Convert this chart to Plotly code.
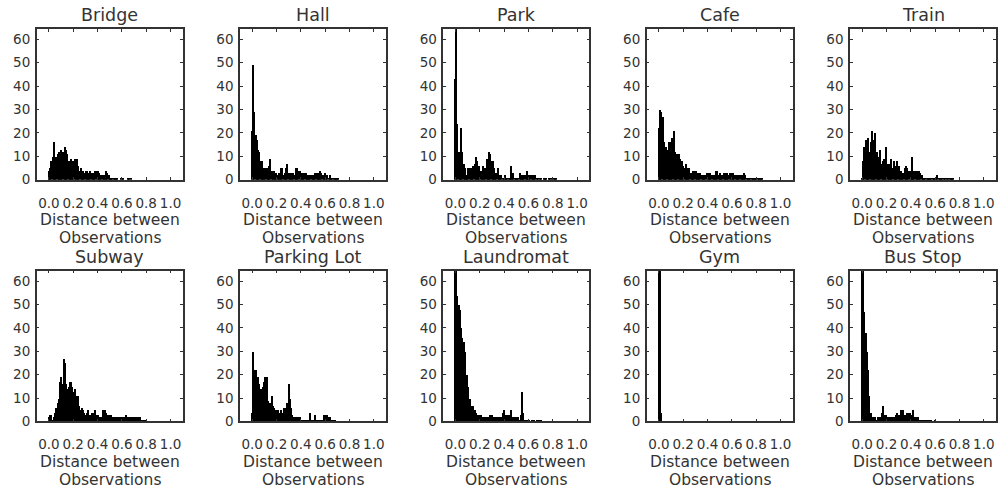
import numpy as np
import plotly.graph_objects as go

# ---- data (counts per 0.01-wide bin, first bin starts at -0.005) ----
titles = ["Bridge", "Hall", "Park", "Cafe", "Train",
          "Subway", "Parking Lot", "Laundromat", "Gym", "Bus Stop"]

bridge = [4, 5, 8, 10, 16, 10, 10, 11, 12, 12, 13, 12, 12, 14, 13, 11, 8, 7, 9, 7, 8, 9, 5, 9, 6, 4, 5, 4, 4, 3,
          4, 4, 3, 2, 4, 3, 3, 3, 4, 4, 4, 3, 2, 2, 2, 2, 2, 4, 3, 2, 1, 1, 1, 1, 1, 1, 1, 0, 0, 1, 1, 1, 0, 0, 0, 1, 1, 1, 0]
hall = [21, 49, 29, 19, 17, 13, 12, 8, 8, 5, 4, 5, 5, 4, 6, 9, 4, 3, 4, 2, 3, 2, 3, 2, 5, 5, 2, 3, 5, 7, 3, 2, 3, 2, 3,
        2, 5, 5, 4, 4, 3, 3, 3, 3, 3, 2, 2, 2, 2, 2, 2, 2, 3, 3, 3, 3, 4, 3, 2, 2, 3, 2, 2, 1, 2, 1, 1, 1, 1, 1, 1, 1, 0]
park = [43, 90, 24, 12, 12, 22, 12, 7, 5, 2, 2, 5, 5, 5, 3, 6, 7, 10, 8, 6, 6, 4, 4, 6, 4, 5, 9, 6, 12, 11, 8, 8, 5,
        3, 3, 5, 2, 1, 2, 1, 1, 2, 1, 1, 1, 1, 6, 3, 3, 1, 1, 1, 1, 3, 2, 2, 2, 2, 2, 4, 2, 2, 2, 2, 2, 2, 2, 1, 1, 0,
        1, 1, 0, 1, 1, 1, 0, 1, 1, 0, 1, 1, 1, 1, 0]
cafe = [22, 30, 29, 27, 16, 12, 14, 13, 16, 16, 10, 18, 21, 12, 10, 11, 11, 9, 6, 8, 6, 5, 7, 5, 5, 5, 3, 3, 4, 4, 4,
        3, 3, 3, 3, 2, 2, 2, 2, 3, 3, 3, 3, 2, 2, 2, 2, 4, 4, 2, 3, 2, 2, 3, 3, 3, 3, 2, 3, 3, 3, 3, 2, 2, 2, 2, 2, 2,
        2, 2, 3, 2, 1, 1, 1, 1, 1, 1, 1, 1, 1, 1, 1, 1, 1, 1, 0]
train = [1, 8, 14, 17, 15, 18, 12, 16, 21, 17, 14, 20, 12, 10, 10, 13, 7, 8, 9, 7, 14, 7, 7, 6, 9, 5, 8, 6, 6, 8, 6,
         4, 4, 3, 3, 5, 6, 5, 4, 4, 3, 10, 4, 4, 4, 4, 4, 4, 3, 2, 1, 1, 1, 1, 1, 1, 1, 1, 1, 1, 1, 1, 2, 1, 1, 1, 1,
         1, 1, 0, 1, 1, 1, 1, 1, 1, 0]
subway = [2, 3, 3, 1, 2, 4, 6, 8, 10, 17, 19, 16, 27, 25, 16, 14, 15, 17, 17, 15, 13, 14, 11, 8, 11, 7, 5, 6, 5, 4,
          3, 4, 5, 3, 3, 4, 4, 4, 5, 3, 3, 2, 2, 2, 5, 5, 5, 4, 3, 3, 3, 3, 2, 2, 2, 2, 2, 2, 2, 2, 2, 2, 2, 3, 2, 2,
          2, 2, 2, 2, 2, 2, 2, 2, 2, 2, 1, 1, 1, 1, 1, 0]
parking_lot = [4, 30, 22, 22, 17, 19, 16, 14, 12, 15, 17, 19, 19, 9, 7, 8, 11, 7, 6, 5, 5, 5, 4, 4, 5, 4, 6, 6, 6, 8,
               16, 10, 6, 3, 2, 2, 2, 2, 2, 2, 1, 1, 1, 1, 1, 1, 1, 1, 4, 1, 1, 1, 3, 1, 1, 1, 1, 1, 1, 3, 3, 3, 3,
               2, 2, 1, 1, 1, 1, 0]
laundromat = [90, 80, 54, 50, 48, 40, 36, 34, 30, 20, 20, 15, 10, 7, 7, 7, 5, 4, 3, 3, 3, 3, 2, 2, 2, 2, 2, 2, 2, 3,
              3, 2, 2, 2, 2, 2, 2, 1, 2, 4, 5, 3, 3, 3, 3, 2, 5, 2, 2, 2, 2, 2, 2, 1, 3, 13, 4, 1, 1, 1, 1, 1, 0, 1,
              1, 1, 0, 1, 1, 1, 1, 1, 0]
gym = [300, 300, 4]
bus_stop = [150, 120, 47, 38, 30, 22, 11, 4, 2, 2, 2, 2, 1, 2, 1, 2, 4, 7, 3, 3, 3, 2, 2, 2, 2, 2, 2, 2, 3, 4, 3, 3,
            5, 5, 5, 3, 3, 4, 4, 4, 3, 3, 5, 2, 2, 2, 2, 1, 1, 1, 1, 1, 1, 1, 1, 1, 1, 1, 0, 0, 1, 0]

series = [bridge, hall, park, cafe, train, subway, parking_lot, laundromat, gym, bus_stop]

bin_start = -0.005
bin_width = 0.01
x_tick_vals = [0.0, 0.2, 0.4, 0.6, 0.8, 1.0]
x_tick_text = ["0.0", "0.2", "0.4", "0.6", "0.8", "1.0"]
y_tick_vals = [0, 10, 20, 30, 40, 50, 60]
x_label_lines = ["Distance between", "Observations"]

# ---- layout geometry (pixels) ----
W, H = 1000, 495
col_left = [36.7, 240.0, 443.3, 646.7, 850.0]
plot_w = 146.0
row_top = [29.3, 275.0]
plot_h = 153.4

FONT = "DejaVu Sans"
TXT = "#333333"

fig = go.Figure()
annotations = []
for i, (name, counts) in enumerate(zip(titles, series)):
    r, c = divmod(i, 5)
    n = i + 1
    xa = "x" if n == 1 else f"x{n}"
    ya = "y" if n == 1 else f"y{n}"
    edges = np.round(bin_start + bin_width * np.arange(len(counts)), 4)
    fig.add_trace(go.Bar(
        x=edges, y=counts, width=bin_width, offset=0,
        marker=dict(color="black", line=dict(width=0)),
        xaxis=xa, yaxis=ya, showlegend=False, hoverinfo="skip"))
    x0 = col_left[c] / W
    x1 = (col_left[c] + plot_w) / W
    y1 = 1 - row_top[r] / H
    y0 = 1 - (row_top[r] + plot_h) / H
    xkey = "xaxis" if n == 1 else f"xaxis{n}"
    ykey = "yaxis" if n == 1 else f"yaxis{n}"
    fig.update_layout({
        xkey: dict(domain=[x0, x1], anchor=ya, range=[-0.1, 1.1],
                   tickvals=x_tick_vals, ticktext=x_tick_text, tickangle=0,
                   showgrid=False, zeroline=False, showline=True, mirror="ticks",
                   linecolor=TXT, linewidth=1.5, ticks="inside", ticklen=3,
                   tickcolor=TXT, tickwidth=1, ticklabelstandoff=10,
                   tickfont=dict(family=FONT, size=13.5, color=TXT)),
        ykey: dict(domain=[y0, y1], anchor=xa, range=[0, 64.5],
                   tickvals=y_tick_vals,
                   showgrid=False, zeroline=False, showline=True, mirror="ticks",
                   linecolor=TXT, linewidth=1.5, ticks="inside", ticklen=3,
                   tickcolor=TXT, tickwidth=1, ticklabelstandoff=2,
                   tickfont=dict(family=FONT, size=13.5, color=TXT)),
    })
    xc = (x0 + x1) / 2
    annotations.append(dict(text=name, x=xc, y=y1, xref="paper", yref="paper",
                            xanchor="center", yanchor="bottom", yshift=2, showarrow=False,
                            font=dict(family=FONT, size=17.5, color=TXT)))
    for line_text, shift in zip(x_label_lines, [-40.5, -58.5]):
        annotations.append(dict(text=line_text, x=xc, y=y0,
                                xref="paper", yref="paper", xanchor="center", yanchor="middle",
                                yshift=shift, showarrow=False,
                                font=dict(family=FONT, size=15.5, color=TXT)))

fig.update_layout(width=W, height=H, margin=dict(l=0, r=0, t=0, b=0),
                  paper_bgcolor="white", plot_bgcolor="white", bargap=0,
                  annotations=annotations)

fig.write_html("out.html")
